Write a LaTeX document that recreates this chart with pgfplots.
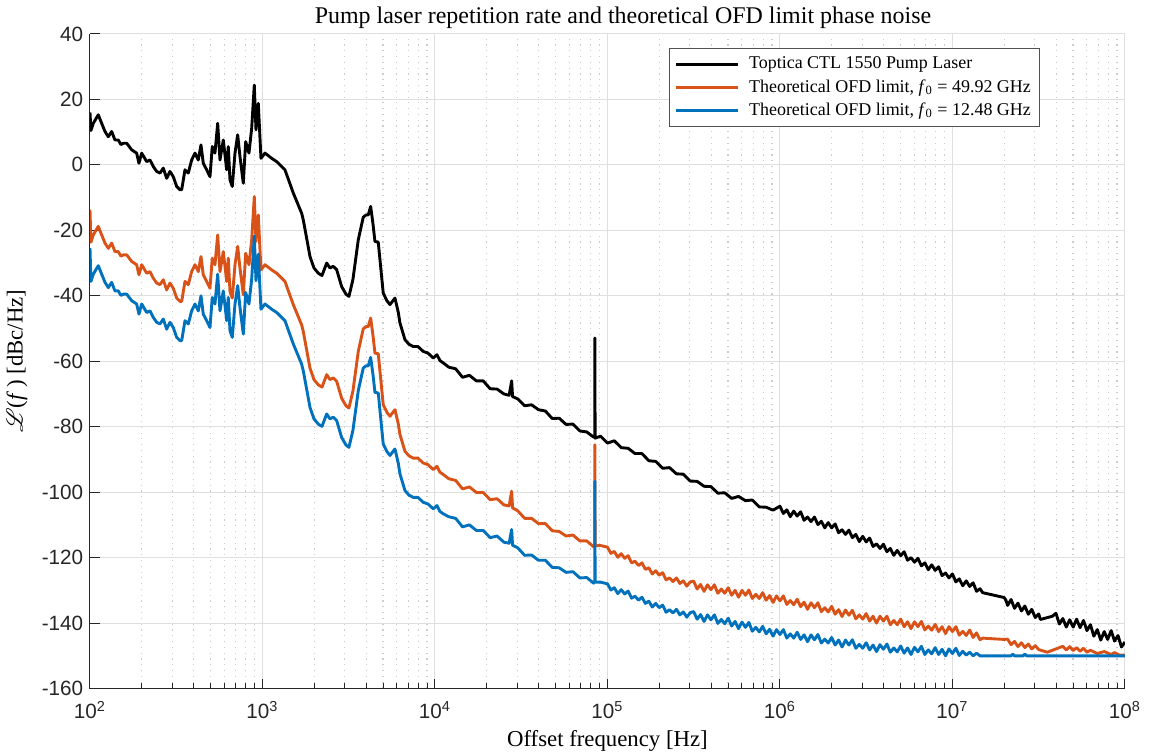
\documentclass[border=0pt]{standalone}
\usepackage{pgfplots}
\pgfplotsset{compat=1.18}
\usepackage{fontspec}
\setmainfont{Liberation Serif}
\setsansfont{Liberation Sans}
\usepackage{mathrsfs}
\definecolor{mblue}{RGB}{0,114,189}
\definecolor{morange}{RGB}{217,83,25}
\definecolor{axgray}{RGB}{38,38,38}
\begin{document}
\begin{tikzpicture}
\begin{axis}[
  scale only axis,
  width=536pt, height=339pt,
  xmode=log, log basis x=10,
  xmin=1e2, xmax=1e8, ymin=-160, ymax=40,
  xtick={1e2,1e3,1e4,1e5,1e6,1e7,1e8},
  minor xtick={200,300,400,500,600,700,800,900,2000,3000,4000,5000,6000,7000,8000,9000,2e4,3e4,4e4,5e4,6e4,7e4,8e4,9e4,2e5,3e5,4e5,5e5,6e5,7e5,8e5,9e5,2e6,3e6,4e6,5e6,6e6,7e6,8e6,9e6,2e7,3e7,4e7,5e7,6e7,7e7,8e7,9e7},
  xticklabels={10\textsuperscript{2},10\textsuperscript{3},10\textsuperscript{4},10\textsuperscript{5},10\textsuperscript{6},10\textsuperscript{7},10\textsuperscript{8}},
  ytick={-160,-140,-120,-100,-80,-60,-40,-20,0,20,40},
  yticklabels={-160,-140,-120,-100,-80,-60,-40,-20,0,20,40},
  axis x line*=bottom, axis y line*=left,
  axis line style={-, draw=axgray, line width=0.5pt},
  tick align=inside,
  major tick length=5pt, minor tick length=3pt,
  every tick/.style={axgray, line width=0.5pt},
  tick label style={font=\sffamily\fontsize{10.7}{12}\selectfont, text=axgray},
  xticklabel style={yshift=-3pt},
  xmajorgrids, ymajorgrids, xminorgrids,
  major grid style={draw=gray!25, line width=0.5pt},
  minor grid style={draw=gray!40, line width=0.6pt, dash pattern=on 0.6pt off 2.4pt},
  every axis title shift=0pt,
  title={Pump laser repetition rate and theoretical OFD limit phase noise},
  title style={at={(axis description cs:0.515,1.0245)}, anchor=center, inner sep=1pt, font=\fontsize{12.4}{14}\selectfont},
  xlabel={Offset frequency [Hz]},
  xlabel style={at={(axis description cs:0.5,-0.0796)}, anchor=center, inner sep=1pt, font=\fontsize{11.8}{13}\selectfont},
  ylabel={\(\mathscr{L}\)(\textit{f}\,) [dBc/Hz]},
  ylabel style={at={(axis description cs:-0.0705,0.5)}, anchor=center, inner sep=1pt, font=\fontsize{11.8}{13}\selectfont},
  legend cell align=left,
  legend style={at={(axis description cs:0.918,0.979)}, anchor=north east, draw=axgray!80, line width=0.5pt, fill=white, font=\fontsize{9.3}{11}\selectfont, inner sep=2.5pt, nodes={inner sep=2pt}, /tikz/every odd column/.append style={column sep=3pt}},
  legend image code/.code={\draw[#1] (0pt,0pt) -- (32pt,0pt);},
  every axis plot/.append style={line width=1.5pt, line join=round},
]
% ---------------- Black: Toptica CTL 1550 pump laser
\addplot[black] coordinates {
(100,16.0)(101.3,10.5)(104.5,12.7)(111.7,15.3)(116.9,12.7)(122.2,10.2)(127.7,8.6)(133.6,10.2)(139.6,7.6)(145.9,7.6)
(151.2,6.2)(156.0,6.6)(163.3,6.6)(174.5,4.6)(186.5,3.6)(192.3,0.5)(199.4,3.6)(213.2,1.0)(222.8,1.5)(232.8,-0.5)
(243.6,-2.0)(254.6,-2.5)(266.1,-1.0)(278.4,-4.1)(290.9,-2.0)(304.0,-3.6)(318.2,-6.6)(332.5,-7.6)(340.2,-7.6)(355.5,-1.5)
(371.5,-2.5)(388.7,1.5)(406.2,3.6)(424.5,1.5)(440.1,6.1)(453.8,0.5)(474.9,-1.5)(496.3,-3.6)(511.7,5.6)(530.4,3.6)
(550.0,12.7)(567.2,1.5)(592.8,7.6)(620.3,-1.5)(633.6,5.6)(648.2,-4.6)(668.4,-6.6)(693.0,3.6)(718.4,9.2)(740.9,2.5)
(774.2,-5.6)(799.4,7.1)(835.2,3.6)(866.0,11.2)(896.6,24.4)(917.1,10.7)(945.8,18.8)(980.2,2.0)(1034,3.6)(1131,2.0)
(1209,1.0)(1350,-1.5)(1509,-8.6)(1688,-14.8)(1724,-16.8)(1805,-22.5)(1886,-28.0)(1989,-31.5)(2107,-33.1)(2213,-33.8)
(2357,-30.0)(2462,-31.5)(2573,-31.0)(2692,-32.0)(2878,-37.2)(3049,-39.5)(3172,-40.2)(3346,-35.0)(3593,-22.9)(3839,-16.0)
(3981,-15.3)(4105,-15.3)(4239,-12.7)(4372,-18.0)(4489,-23.4)(4691,-23.6)(5014,-39.2)(5268,-41.5)(5484,-42.7)(5863,-40.7)
(6127,-45.0)(6268,-48.3)(6700,-53.4)(7069,-54.8)(7486,-55.5)(7968,-55.5)(8553,-57.0)(9108,-57.5)(9774,-59.0)(10270,-58.0)
(10690,-59.8)(11170,-60.5)
(1.202e4,-61.8)(1.318e4,-62.3)(1.445e4,-64.9)(1.585e4,-64.3)(1.738e4,-66.0)(1.905e4,-66.0)(2.089e4,-68.4)(2.291e4,-68.5)
(2.512e4,-70.0)(2.692e4,-70.4)(2.784e4,-66.0)(2.818e4,-70.8)(3.020e4,-71.5)(3.311e4,-73.6)(3.631e4,-73.3)(3.981e4,-74.8)
(4.365e4,-75.2)(4.786e4,-77.5)(5.248e4,-77.4)(5.754e4,-79.3)(6.310e4,-79.2)(6.918e4,-81.3)(7.586e4,-81.6)(8.318e4,-83.2)
(8.44e4,-83.0)(8.46e4,-52.9)(8.48e4,-83.5)(9.120e4,-82.9)
(1.000e5,-85.0)(1.096e5,-84.3)(1.202e5,-86.4)(1.318e5,-86.6)(1.445e5,-88.2)(1.585e5,-88.2)(1.738e5,-90.4)(1.905e5,-90.6)
(2.089e5,-92.7)(2.291e5,-92.5)(2.512e5,-94.4)(2.754e5,-94.5)(3.020e5,-96.6)(3.311e5,-96.7)(3.631e5,-98.2)(3.981e5,-98.3)
(4.365e5,-100.3)(4.786e5,-100.2)(5.248e5,-101.9)(5.754e5,-101.3)(6.310e5,-102.6)(6.918e5,-102.4)(7.586e5,-104.5)(8.318e5,-104.6)
(9.120e5,-105.5)
(1.000e6,-104.3)(1.047e6,-106.5)(1.096e6,-105.4)(1.148e6,-107.5)(1.202e6,-105.8)(1.259e6,-107.3)(1.318e6,-106.0)(1.380e6,-108.6)
(1.445e6,-107.6)(1.514e6,-109.0)(1.585e6,-107.6)(1.660e6,-109.9)(1.738e6,-108.9)(1.820e6,-110.9)(1.905e6,-109.3)(1.995e6,-110.9)
(2.089e6,-109.7)(2.188e6,-112.4)(2.291e6,-111.5)(2.399e6,-112.9)(2.512e6,-111.6)(2.630e6,-113.9)(2.754e6,-112.9)(2.884e6,-115.1)
(3.020e6,-113.5)(3.162e6,-115.2)(3.311e6,-114.0)(3.467e6,-116.6)(3.631e6,-115.8)(3.802e6,-117.2)(3.981e6,-115.9)(4.169e6,-118.2)
(4.365e6,-117.2)(4.571e6,-119.3)(4.786e6,-117.8)(5.012e6,-119.4)(5.248e6,-118.2)(5.495e6,-120.8)(5.754e6,-120.0)(6.026e6,-121.4)
(6.310e6,-120.2)(6.607e6,-122.5)(6.918e6,-121.6)(7.244e6,-123.7)(7.586e6,-122.2)(7.943e6,-123.9)(8.318e6,-122.8)(8.710e6,-125.5)
(9.120e6,-124.7)(9.550e6,-126.2)(1.000e7,-125.0)(1.047e7,-127.4)(1.096e7,-126.5)(1.148e7,-128.6)(1.202e7,-127.1)(1.259e7,-128.8)
(1.318e7,-127.7)(1.380e7,-130.3)(1.445e7,-129.5)(1.496e7,-130.7)
(1.995e7,-132.2)(2.042e7,-133.0)(2.089e7,-134.6)(2.188e7,-132.8)(2.291e7,-135.5)(2.399e7,-133.9)(2.512e7,-136.3)(2.630e7,-134.8)
(2.754e7,-137.3)(2.884e7,-135.8)(3.020e7,-138.3)(3.162e7,-137.2)(3.236e7,-138.9)
(3.802e7,-137.9)(3.981e7,-137.0)(4.169e7,-140.3)(4.365e7,-138.6)(4.571e7,-141.2)(4.786e7,-139.0)(5.012e7,-141.2)(5.248e7,-138.8)
(5.495e7,-141.4)(5.754e7,-139.2)(6.026e7,-142.3)(6.310e7,-140.5)(6.607e7,-144.0)(6.918e7,-142.0)(7.244e7,-145.2)(7.586e7,-142.6)
(7.943e7,-145.0)(8.318e7,-142.3)(8.710e7,-145.5)(9.120e7,-143.8)(9.550e7,-147.3)(1e8,-145.8)
};
\addlegendentry{Toptica CTL 1550 Pump Laser}
% ---------------- Orange: f0 = 49.92 GHz
\addplot[morange] coordinates {
(100,-13.7)(101.3,-23.6)(104.5,-21.4)(111.7,-18.8)(116.9,-21.4)(122.2,-23.9)(127.7,-25.5)(133.6,-23.9)(139.6,-26.5)(145.9,-26.5)
(151.2,-27.9)(156.0,-27.5)(163.3,-27.5)(174.5,-29.5)(186.5,-30.5)(192.3,-33.6)(199.4,-30.5)(213.2,-33.1)(222.8,-32.6)(232.8,-34.6)
(243.6,-36.1)(254.6,-36.6)(266.1,-35.1)(278.4,-38.2)(290.9,-36.1)(304.0,-37.7)(318.2,-40.7)(332.5,-41.7)(340.2,-41.7)(355.5,-35.6)
(371.5,-36.6)(388.7,-32.6)(406.2,-30.5)(424.5,-32.6)(440.1,-28.0)(453.8,-33.6)(474.9,-35.6)(496.3,-37.7)(511.7,-28.5)(530.4,-30.5)
(550.0,-21.4)(567.2,-32.6)(592.8,-26.5)(620.3,-35.6)(633.6,-28.5)(648.2,-38.7)(668.4,-40.7)(693.0,-30.5)(718.4,-24.9)(740.9,-31.6)
(774.2,-39.7)(799.4,-27.0)(835.2,-30.5)(866.0,-22.9)(896.6,-9.7)(917.1,-23.4)(945.8,-15.3)(980.2,-32.1)(1034,-30.5)(1131,-32.1)
(1209,-33.1)(1350,-35.6)(1509,-42.7)(1688,-48.9)(1724,-50.9)(1805,-56.6)(1886,-62.1)(1989,-65.6)(2107,-67.2)(2213,-67.9)
(2357,-64.1)(2462,-65.6)(2573,-65.1)(2692,-66.1)(2878,-71.3)(3049,-73.6)(3172,-74.3)(3346,-69.1)(3593,-57.0)(3839,-50.1)
(3981,-49.4)(4105,-49.4)(4239,-46.8)(4372,-52.1)(4489,-57.5)(4691,-57.7)(5014,-73.3)(5268,-75.6)(5484,-76.8)(5863,-74.8)
(6127,-79.1)(6268,-82.4)(6700,-87.5)(7069,-88.9)(7486,-89.6)(7968,-89.6)(8553,-91.1)(9108,-91.6)(9774,-93.1)(10270,-92.1)
(10690,-93.9)(11170,-94.6)
(1.202e4,-95.9)(1.318e4,-96.4)(1.445e4,-99.0)(1.585e4,-98.4)(1.738e4,-100.1)(1.905e4,-100.1)(2.089e4,-102.3)(2.291e4,-102.0)
(2.512e4,-103.9)(2.692e4,-104.2)(2.784e4,-99.7)(2.818e4,-104.8)(3.020e4,-105.7)(3.311e4,-108.0)(3.631e4,-108.0)(3.981e4,-109.6)
(4.365e4,-109.6)(4.786e4,-111.8)(5.248e4,-112.0)(5.754e4,-113.4)(6.310e4,-113.1)(6.918e4,-114.9)(7.586e4,-114.9)(8.318e4,-116.7)
(8.44e4,-116.2)(8.46e4,-85.5)(8.48e4,-116.4)(9.120e4,-116.3)
(1.000e5,-116.8)(1.047e5,-118.7)(1.096e5,-118.1)(1.148e5,-119.9)(1.202e5,-118.8)(1.259e5,-120.2)(1.318e5,-119.4)(1.380e5,-121.6)
(1.445e5,-121.1)(1.514e5,-122.4)(1.585e5,-121.6)(1.660e5,-123.6)(1.738e5,-123.1)(1.820e5,-125.0)(1.905e5,-124.0)(1.995e5,-125.4)
(2.089e5,-124.6)(2.188e5,-126.8)(2.291e5,-126.2)(2.399e5,-127.3)(2.512e5,-126.2)(2.630e5,-127.9)(2.754e5,-127.1)(2.884e5,-128.7)
(3.020e5,-127.4)(3.162e5,-127.2)(3.311e5,-129.6)(3.467e5,-128.2)(3.631e5,-130.3)(3.802e5,-128.3)(3.981e5,-129.8)(4.169e5,-128.3)
(4.365e5,-130.9)(4.571e5,-129.6)(4.786e5,-130.9)(5.012e5,-129.2)(5.248e5,-131.5)(5.495e5,-130.0)(5.754e5,-132.1)(6.026e5,-130.0)
(6.310e5,-131.5)(6.607e5,-129.9)(6.918e5,-132.5)(7.244e5,-131.2)(7.586e5,-132.5)(7.943e5,-130.7)(8.318e5,-133.0)(8.710e5,-131.6)
(9.120e5,-133.7)(9.550e5,-131.7)(1.000e6,-133.2)(1.047e6,-131.7)(1.096e6,-134.3)(1.148e6,-133.1)(1.202e6,-134.4)(1.259e6,-132.7)
(1.318e6,-135.0)(1.380e6,-133.6)(1.445e6,-135.8)(1.514e6,-133.8)(1.585e6,-135.3)(1.660e6,-133.8)(1.738e6,-136.5)(1.820e6,-135.3)
(1.905e6,-136.6)(1.995e6,-134.9)(2.089e6,-137.3)(2.188e6,-135.9)(2.291e6,-138.0)(2.399e6,-136.0)(2.512e6,-137.6)(2.630e6,-136.1)
(2.754e6,-138.7)(2.884e6,-137.5)(3.020e6,-138.8)(3.162e6,-137.1)(3.311e6,-139.4)(3.467e6,-137.9)(3.631e6,-140.0)(3.802e6,-137.9)
(3.981e6,-139.4)(4.169e6,-137.9)(4.365e6,-140.5)(4.571e6,-139.2)(4.786e6,-140.5)(5.012e6,-138.8)(5.248e6,-141.1)(5.495e6,-139.6)
(5.754e6,-141.7)(6.026e6,-139.6)(6.310e6,-141.1)(6.607e6,-139.5)(6.918e6,-142.1)(7.244e6,-140.9)(7.586e6,-142.2)(7.943e6,-140.4)
(8.318e6,-142.6)(8.710e6,-141.1)(9.120e6,-143.2)(9.550e6,-141.1)(1.000e7,-142.6)(1.047e7,-141.1)(1.096e7,-143.7)(1.148e7,-142.5)
(1.202e7,-143.8)(1.259e7,-142.1)(1.318e7,-144.4)(1.380e7,-143.0)(1.445e7,-145.1)(1.496e7,-144.6)
(1.995e7,-145.0)(2.089e7,-144.9)(2.188e7,-146.6)(2.291e7,-145.6)(2.399e7,-147.2)(2.512e7,-146.0)(2.630e7,-147.5)(2.754e7,-146.4)
(2.884e7,-147.9)(3.020e7,-146.9)(3.162e7,-148.1)(3.548e7,-148.9)(4.365e7,-147.1)(4.571e7,-148.2)(4.786e7,-147.2)(5.012e7,-148.4)
(5.248e7,-147.5)(5.495e7,-148.6)(5.754e7,-147.7)(6.026e7,-148.9)(6.310e7,-148.3)(6.918e7,-149.3)(7.586e7,-148.7)(8.318e7,-149.6)
(8.710e7,-149.0)(9.333e7,-149.8)(1e8,-149.8)
};
\addlegendentry{Theoretical OFD limit, \textit{f}\textsubscript{0} = 49.92 GHz}
% ---------------- Blue: f0 = 12.48 GHz
\addplot[mblue] coordinates {
(100,-25.4)(101.3,-35.6)(104.5,-33.4)(111.7,-30.8)(116.9,-33.4)(122.2,-35.9)(127.7,-37.5)(133.6,-35.9)(139.6,-38.5)(145.9,-38.5)
(151.2,-39.9)(156.0,-39.5)(163.3,-39.5)(174.5,-41.5)(186.5,-42.5)(192.3,-45.6)(199.4,-42.5)(213.2,-45.1)(222.8,-44.6)(232.8,-46.6)
(243.6,-48.1)(254.6,-48.6)(266.1,-47.1)(278.4,-50.2)(290.9,-48.1)(304.0,-49.7)(318.2,-52.7)(332.5,-53.7)(340.2,-53.7)(355.5,-47.6)
(371.5,-48.6)(388.7,-44.6)(406.2,-42.5)(424.5,-44.6)(440.1,-40.0)(453.8,-45.6)(474.9,-47.6)(496.3,-49.7)(511.7,-40.5)(530.4,-42.5)
(550.0,-33.4)(567.2,-44.6)(592.8,-38.5)(620.3,-47.6)(633.6,-40.5)(648.2,-50.7)(668.4,-52.7)(693.0,-42.5)(718.4,-36.9)(740.9,-43.6)
(774.2,-51.7)(799.4,-39.0)(835.2,-42.5)(866.0,-34.9)(896.6,-21.7)(917.1,-35.4)(945.8,-27.3)(980.2,-44.1)(1034,-42.5)(1131,-44.1)
(1209,-45.1)(1350,-47.6)(1509,-54.7)(1688,-60.9)(1724,-62.9)(1805,-68.6)(1886,-74.1)(1989,-77.6)(2107,-79.2)(2213,-79.9)
(2357,-76.1)(2462,-77.6)(2573,-77.1)(2692,-78.1)(2878,-83.3)(3049,-85.6)(3172,-86.3)(3346,-81.1)(3593,-69.0)(3839,-62.1)
(3981,-61.4)(4105,-61.4)(4239,-58.8)(4372,-64.1)(4489,-69.5)(4691,-69.7)(5014,-85.3)(5268,-87.6)(5484,-88.8)(5863,-86.8)
(6127,-91.1)(6268,-94.4)(6700,-99.5)(7069,-100.9)(7486,-101.6)(7968,-101.6)(8553,-103.1)(9108,-103.6)(9774,-105.1)(10270,-104.1)
(10690,-105.9)(11170,-106.6)
(1.202e4,-107.5)(1.318e4,-108.0)(1.445e4,-110.6)(1.585e4,-110.0)(1.738e4,-111.7)(1.905e4,-111.7)(2.089e4,-113.9)(2.291e4,-113.4)
(2.512e4,-115.3)(2.692e4,-115.6)(2.784e4,-111.4)(2.818e4,-116.2)(3.020e4,-117.0)(3.311e4,-119.3)(3.631e4,-119.2)(3.981e4,-120.8)
(4.365e4,-120.8)(4.786e4,-123.0)(5.248e4,-123.1)(5.754e4,-124.5)(6.310e4,-124.3)(6.918e4,-126.2)(7.586e4,-126.1)(8.318e4,-127.8)
(8.44e4,-127.3)(8.46e4,-96.7)(8.48e4,-127.5)(9.120e4,-127.5)
(1.000e5,-128.0)(1.047e5,-129.9)(1.096e5,-129.2)(1.148e5,-131.0)(1.202e5,-129.8)(1.259e5,-131.1)(1.318e5,-130.2)(1.380e5,-132.4)
(1.445e5,-131.8)(1.514e5,-133.0)(1.585e5,-132.1)(1.660e5,-134.0)(1.738e5,-133.3)(1.820e5,-135.1)(1.905e5,-134.0)(1.995e5,-135.3)
(2.089e5,-134.5)(2.188e5,-136.7)(2.291e5,-135.9)(2.399e5,-136.9)(2.512e5,-135.8)(2.630e5,-137.5)(2.754e5,-136.6)(2.884e5,-138.2)
(3.020e5,-136.8)(3.162e5,-136.5)(3.311e5,-138.8)(3.467e5,-137.4)(3.631e5,-139.5)(3.802e5,-137.5)(3.981e5,-139.0)(4.169e5,-137.5)
(4.365e5,-140.1)(4.571e5,-138.9)(4.786e5,-140.2)(5.012e5,-138.5)(5.248e5,-140.9)(5.495e5,-139.5)(5.754e5,-141.7)(6.026e5,-139.7)
(6.310e5,-141.3)(6.607e5,-139.8)(6.918e5,-142.5)(7.244e5,-141.3)(7.586e5,-142.7)(7.943e5,-141.0)(8.318e5,-143.3)(8.710e5,-141.9)
(9.120e5,-144.0)(9.550e5,-142.0)(1.000e6,-143.5)(1.047e6,-142.0)(1.096e6,-144.6)(1.148e6,-143.3)(1.202e6,-144.6)(1.259e6,-142.8)
(1.318e6,-145.0)(1.380e6,-143.6)(1.445e6,-145.7)(1.514e6,-143.6)(1.585e6,-145.1)(1.660e6,-143.5)(1.738e6,-146.1)(1.820e6,-144.9)
(1.905e6,-146.1)(1.995e6,-144.4)(2.089e6,-146.7)(2.188e6,-145.2)(2.291e6,-147.3)(2.399e6,-145.2)(2.512e6,-146.7)(2.630e6,-145.1)
(2.754e6,-147.7)(2.884e6,-146.5)(3.020e6,-147.7)(3.162e6,-146.0)(3.311e6,-148.2)(3.467e6,-146.7)(3.631e6,-148.7)(3.802e6,-146.6)
(3.981e6,-148.0)(4.169e6,-146.4)(4.365e6,-148.9)(4.571e6,-147.6)(4.786e6,-148.8)(5.012e6,-147.0)(5.248e6,-149.2)(5.495e6,-147.6)
(5.754e6,-149.6)(6.026e6,-147.4)(6.310e6,-148.8)(6.607e6,-147.1)(6.918e6,-149.6)(7.244e6,-148.2)(7.586e6,-149.4)(7.943e6,-147.5)
(8.318e6,-149.6)(8.710e6,-148.0)(9.120e6,-150.0)(9.550e6,-147.9)(1.000e7,-149.3)(1.047e7,-147.7)(1.096e7,-149.9)(1.148e7,-148.6)
(1.202e7,-149.8)(1.259e7,-148.9)(1.318e7,-150.0)(1.380e7,-149.2)(1.445e7,-150.0)(1.496e7,-150.0)
(2.188e7,-150.0)(2.239e7,-149.5)(2.291e7,-150.0)(2.570e7,-150.0)(2.630e7,-149.5)(2.692e7,-150.0)(1e8,-150.0)
};
\addlegendentry{Theoretical OFD limit, \textit{f}\textsubscript{0} = 12.48 GHz}
\end{axis}
\path ([xshift=-46.6pt,yshift=-33.7pt]current axis.south west) rectangle ([xshift=13pt,yshift=17.6pt]current axis.north east);
\end{tikzpicture}
\end{document}
